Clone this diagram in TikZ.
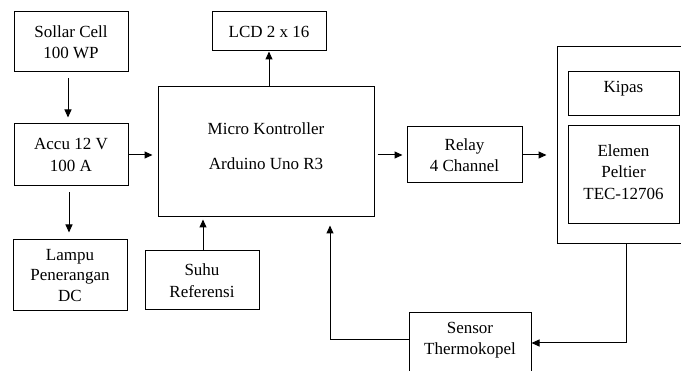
\documentclass[tikz,border=0pt]{standalone}
\usepackage{fontspec}
\setmainfont{Liberation Serif}
\usetikzlibrary{arrows.meta}
\begin{document}
\begin{tikzpicture}[x=1pt,y=-1pt,
 blk/.style={draw,line width=1pt,inner sep=0pt,align=center,font=\fontsize{17}{21.5}\selectfont},
 txt/.style={inner sep=0pt,align=center,font=\fontsize{17}{21.5}\selectfont},
 arr/.style={line width=1pt,-{Triangle[length=8pt,width=7pt]}},
 ln/.style={line width=1pt}]
\useasboundingbox (0,0) rectangle (681,371);
\clip (0,0) rectangle (681,371);
\node[blk,minimum width=114pt,minimum height=60pt] (sollar) at (71,42) {Sollar Cell\\100 WP};
\node[blk,minimum width=114pt,minimum height=62pt] (accu) at (71,155) {Accu 12 V\\100 A};
\node[blk,minimum width=114pt,minimum height=71pt,font=\fontsize{17}{20.5}\selectfont] (lampu) at (70,275.5) {Lampu\\Penerangan\\DC};
\node[blk,minimum width=114pt,minimum height=39pt] (lcd) at (269,31.5) {LCD 2 x 16};
\node[blk,minimum width=216pt,minimum height=130pt] (micro) at (266,152) {};
\node[txt] (microtxt) at (266,146) {Micro Kontroller\\[13pt]Arduino Uno R3};
\node[blk,minimum width=114pt,minimum height=59pt] (suhu) at (202,280.5) {Suhu\\Referensi};
\node[blk,minimum width=115pt,minimum height=56pt] (relay) at (464.5,155) {Relay\\4 Channel};
\node[blk,minimum width=143pt,minimum height=197pt] (outer) at (628.5,145.5) {};
\node[blk,minimum width=111pt,minimum height=44pt] (kipas) at (623.5,94) {};
\node[txt] (kipastxt) at (623.5,89) {Kipas};
\node[blk,minimum width=111pt,minimum height=98pt] (elemen) at (623.5,175) {};
\node[txt] (elementxt) at (623.5,172) {Elemen\\Peltier\\TEC-12706};
\node[blk,minimum width=122pt,minimum height=61pt] (sensor) at (470,343.5) {};
\node[txt] (sensortxt) at (470,340) {Sensor\\Thermokopel};
\draw[arr,shorten <=6pt,shorten >=6pt] ([xshift=-3pt]sollar.south) -- ([xshift=-3pt]accu.north);
\draw[arr,shorten >=5pt] (accu.east) -- (accu.east -| micro.west);
\draw[arr,shorten <=6pt,shorten >=7pt] ([xshift=-2pt]accu.south) -- ([xshift=-2pt]accu.south |- lampu.north);
\draw[arr] (micro.north -| lcd.south) -- (lcd.south);
\draw[arr,shorten >=2pt] ([xshift=1pt]suhu.north) -- ([xshift=1pt]suhu.north |- micro.south);
\draw[arr,shorten <=3pt,shorten >=4pt] (micro.east |- relay.west) -- (relay.west);
\draw[arr,shorten >=10pt] (relay.east) -- (relay.east -| outer.west);
\draw[arr] ([xshift=-2.5pt]outer.south) |- ([yshift=0.5pt]sensor.east);
\draw[arr,shorten >=8pt] ([yshift=3.5pt]sensor.west) -| ([xshift=64pt]micro.south);
\end{tikzpicture}
\end{document}
